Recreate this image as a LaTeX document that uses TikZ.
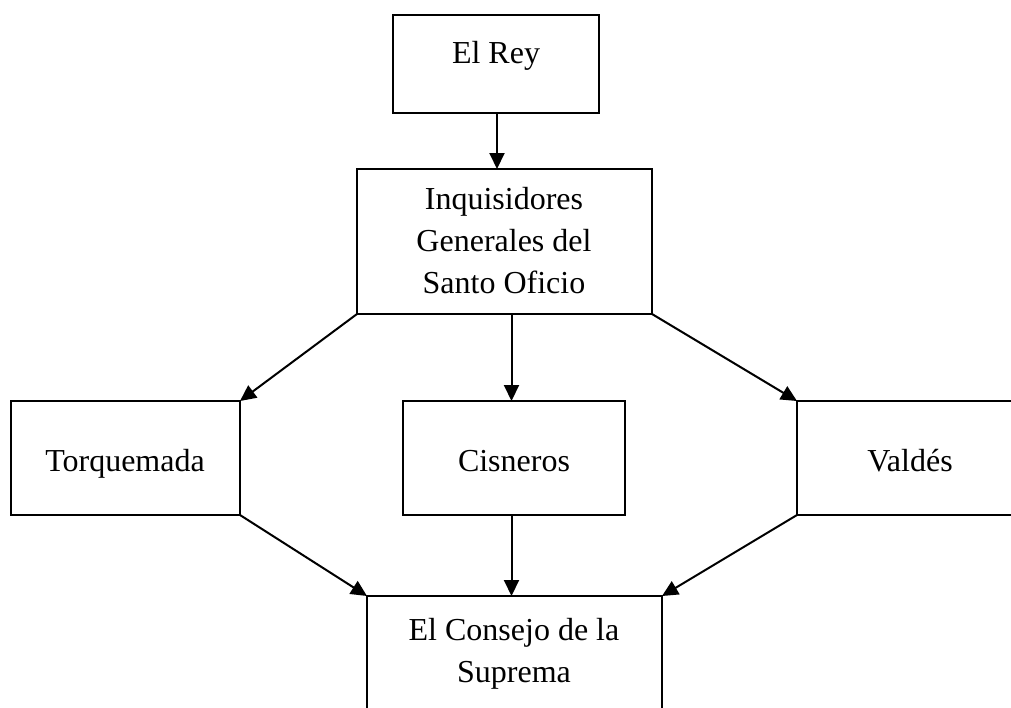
\documentclass[tikz,border=0pt]{standalone}
\usepackage{fontspec}
\setmainfont{Liberation Serif}
\usetikzlibrary{arrows.meta}
\begin{document}
\begin{tikzpicture}[x=1pt,y=-1pt,
  box/.style={draw, line width=2pt, rectangle, inner sep=0pt, outer sep=0pt},
  lbl/.style={anchor=base, align=center, inner sep=0pt, font=\fontsize{32}{42}\selectfont},
  conn/.style={line width=2pt, -{Triangle[length=16pt,width=15pt]}}]
\useasboundingbox (0,0) rectangle (1011,707);
\clip (0,0) rectangle (1011,707);
\node[box, minimum width=206, minimum height=98] (rey) at (496,64) {};
\node[box, minimum width=295, minimum height=145] (inq) at (504.5,241.5) {};
\node[box, minimum width=229, minimum height=114] (tor) at (125.5,458) {};
\node[box, minimum width=222, minimum height=114] (cis) at (514,458) {};
\node[box, minimum width=226, minimum height=114] (val) at (910,458) {};
\node[box, minimum width=295, minimum height=130] (sup) at (514.5,661) {};
\node[lbl] (treY) at (496,63) {El Rey};
\node[lbl] (tinq) at (504,293) {Inquisidores\\Generales del\\Santo Oficio};
\node[lbl] (ttor) at (125,471) {Torquemada};
\node[lbl] (tcis) at (514,471) {Cisneros};
\node[lbl] (tval) at (910,471) {Valdés};
\node[lbl] (tsup) at (514,682) {El Consejo de la\\Suprema};
\draw[conn] (rey.south -| 497,0) -- (inq.north -| 497,0);
\draw[conn] (inq.south west) -- (tor.north east);
\draw[conn] (inq.south -| 511.5,0) -- (cis.north -| 511.5,0);
\draw[conn] (inq.south east) -- (val.north west);
\draw[conn] (tor.south east) -- (sup.north west);
\draw[conn] (cis.south -| 511.5,0) -- (sup.north -| 511.5,0);
\draw[conn] (val.south west) -- (sup.north east);
\end{tikzpicture}
\end{document}
